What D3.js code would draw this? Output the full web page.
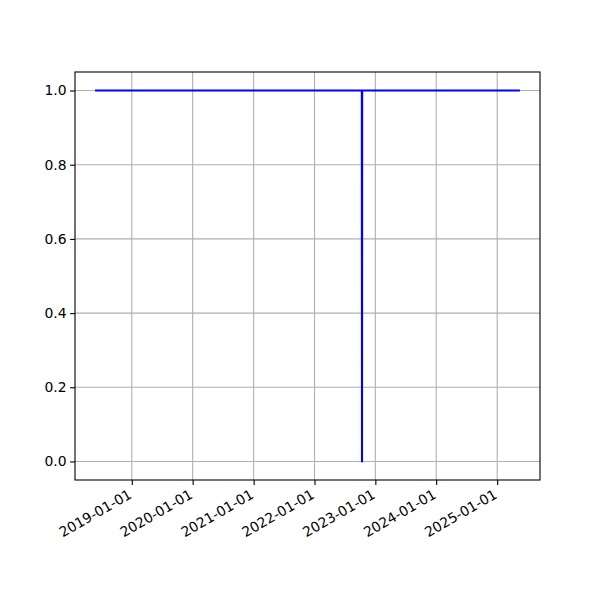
<!DOCTYPE html>
<html><head><meta charset="utf-8">
<script src="https://cdn.jsdelivr.net/npm/d3@7"></script>
<style>body{margin:0;background:#fff}svg{display:block}text{font-family:"DejaVu Sans",sans-serif}</style>
</head><body>
<svg id="c" width="600" height="600"></svg>
<script>
const dates = ["2018-06-01","2022-10-12","2022-10-13","2022-10-14","2025-05-11"];
const values = [1,1,0,1,1];
const xTickLabels = ["2019-01-01","2020-01-01","2021-01-01","2022-01-01","2023-01-01","2024-01-01","2025-01-01"];
const yTicks = [0,0.2,0.4,0.6,0.8,1.0];

const parse = d3.utcParse("%Y-%m-%d");
const data = dates.map((d,i)=>({t:parse(d), v:values[i]}));
const L=75, R=540, T=72, B=480;
const svg = d3.select("#c");
svg.append("rect").attr("width",600).attr("height",600).attr("fill","#fff");

const ext = d3.extent(data,d=>d.t);
const span = ext[1]-ext[0];
const x = d3.scaleUtc().domain([new Date(+ext[0]-span*0.05), new Date(+ext[1]+span*0.05)]).range([L,R]);
const y = d3.scaleLinear().domain([-0.05,1.05]).range([B,T]);
const xt = xTickLabels.map(parse);

// grid
const g = svg.append("g");
g.selectAll(".gx").data(xt).enter().append("line")
 .attr("x1",d=>x(d)).attr("x2",d=>x(d)).attr("y1",T).attr("y2",B)
 .attr("stroke","#b0b0b0").attr("stroke-width",1.1);
g.selectAll(".gy").data(yTicks).enter().append("line")
 .attr("y1",d=>y(d)).attr("y2",d=>y(d)).attr("x1",L).attr("x2",R)
 .attr("stroke","#b0b0b0").attr("stroke-width",1.1);

// line
svg.append("path").datum(data)
 .attr("d", d3.line().x(d=>x(d.t)).y(d=>y(d.v)))
 .attr("fill","none").attr("stroke","#0000ff").attr("stroke-width",2.08)
 .attr("stroke-linejoin","round").attr("stroke-linecap","square");

// axes
const xa = svg.append("g").attr("transform",`translate(0,${B})`)
 .call(d3.axisBottom(x).tickValues(xt).tickFormat(d3.utcFormat("%Y-%m-%d")).tickSize(4.9).tickPadding(3.5));
xa.select(".domain").remove();
xa.selectAll("line").attr("stroke","#000").attr("stroke-width",1.1);
xa.selectAll("text").attr("font-size","13.9px").attr("fill","#000")
 .attr("text-anchor","end")
 .attr("x",0).attr("y",0)
 .attr("transform",`translate(-2,13) rotate(-30)`)
 .attr("dy","0.35em");

const ya = svg.append("g").attr("transform",`translate(${L},0)`)
 .call(d3.axisLeft(y).tickValues(yTicks).tickFormat(d3.format(".1f")).tickSize(4.9).tickPadding(3.5));
ya.select(".domain").remove();
ya.selectAll("line").attr("stroke","#000").attr("stroke-width",1.1);
ya.selectAll("text").attr("font-size","13.9px").attr("fill","#000");

svg.append("rect").attr("x",L).attr("y",T).attr("width",R-L).attr("height",B-T)
 .attr("fill","none").attr("stroke","#000").attr("stroke-width",1.1);
</script>
</body></html>
